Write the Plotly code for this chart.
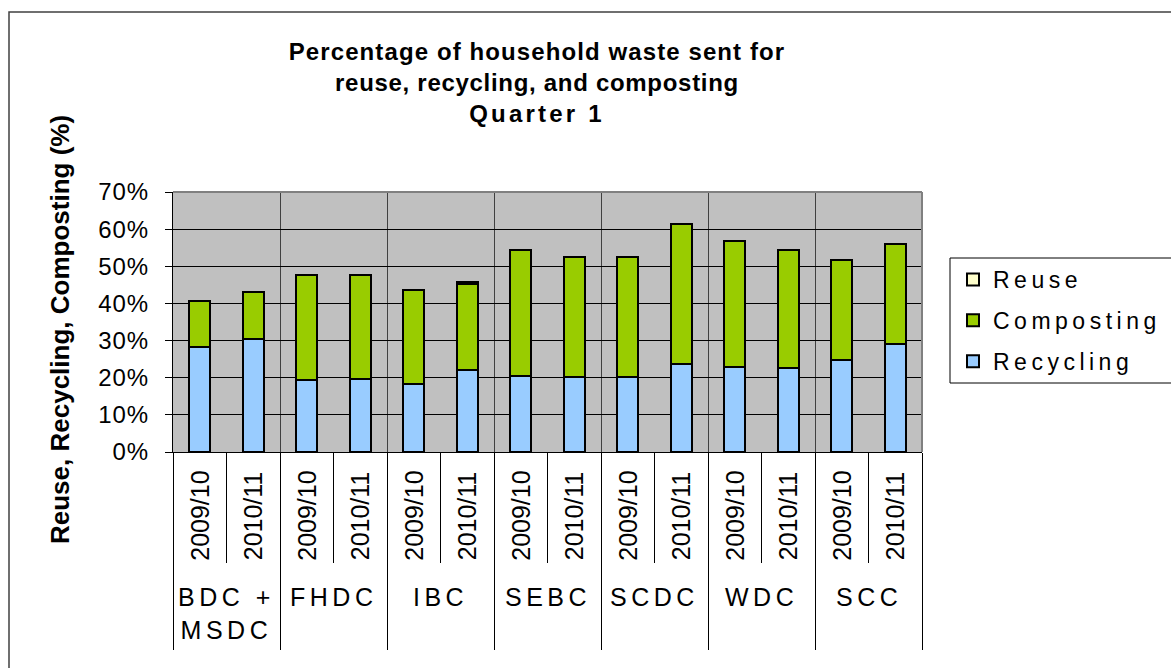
import plotly.graph_objects as go

# ---- data ----
councils = ["BDC +<br>MSDC", "FHDC", "IBC", "SEBC", "SCDC", "WDC", "SCC"]
years = ["2009/10", "2010/11"]
recycling = [28.4, 30.5, 19.3, 19.7, 18.2, 22.0, 20.4, 20.3, 20.3, 23.6, 23.0, 22.5, 24.7, 29.0]
composting = [12.3, 12.5, 28.4, 28.0, 25.3, 23.3, 33.9, 32.3, 32.3, 37.8, 33.9, 31.8, 26.9, 27.0]
reuse = [0, 0, 0, 0, 0, 0.4, 0, 0, 0, 0, 0, 0, 0, 0]
y_ticks = [0, 10, 20, 30, 40, 50, 60, 70]

# ---- geometry helpers (pixels of a 1171x668 canvas) ----
W, H = 1171, 668
L, R, T, B = 173, 922, 192, 452
pw, ph = R - L, B - T
FONT = "Liberation Sans, Arial, sans-serif"


def px_x(p):
    return (p - L) / pw


def px_y(p):
    return (B - p) / ph


def spaced(text, sp):
    return f"<span style='letter-spacing:{sp}px'>{text}</span>"


n = len(councils) * len(years)
xpos = list(range(n))
group_bounds = [i * len(years) - 0.5 for i in range(len(councils) + 1)]
year_bounds = [i * len(years) + 0.5 for i in range(len(councils))]

fig = go.Figure()
series = [
    ("Recycling", recycling, "#99CCFF", 3),
    ("Composting", composting, "#99CC00", 2),
    ("Reuse", reuse, "#FFFFCC", 1),
]
for name, vals, col, rank in series:
    fig.add_trace(go.Bar(
        x=xpos, y=vals, name=spaced(name, 4.5), legendgroup=name, legendrank=rank,
        marker=dict(color=col, line=dict(color="black", width=2)),
        width=0.4,
    ))

annotations = []
# year labels
for i in range(n):
    annotations.append(dict(
        x=i, y=px_y(516), xref="x", yref="paper", text=years[i % len(years)],
        textangle=-90, showarrow=False, xanchor="center", yanchor="middle",
        font=dict(family=FONT, size=25, color="black"),
    ))
# council labels
for g, name in enumerate(councils):
    two = "<br>" in name
    txt = "<br>".join(spaced(p, 4.5) for p in name.split("<br>"))
    annotations.append(dict(
        x=g * len(years) + 0.5, y=px_y(613 if two else 597), xref="x", yref="paper",
        text=txt, showarrow=False, xanchor="center", yanchor="middle",
        font=dict(family=FONT, size=25, color="black"),
    ))
# y-axis title
annotations.append(dict(
    x=px_x(60), y=px_y(330), xref="paper", yref="paper",
    text="<b>Reuse, Recycling, Composting (%)</b>", textangle=-90,
    showarrow=False, xanchor="center", yanchor="middle",
    font=dict(family=FONT, size=26, color="black"),
))

shapes = [
    # plot-area border top & right (grey)
    dict(type="line", xref="paper", yref="paper", x0=0, x1=1, y0=1, y1=1,
         line=dict(color="#808080", width=2)),
    dict(type="line", xref="paper", yref="paper", x0=1, x1=1, y0=0, y1=1,
         line=dict(color="#808080", width=2)),
    # chart outer frame
    dict(type="rect", xref="paper", yref="paper",
         x0=px_x(9), x1=px_x(W + 5), y0=px_y(H + 5), y1=px_y(12),
         line=dict(color="#404040", width=1.5), fillcolor="rgba(0,0,0,0)"),
    # legend frame (extends past the right edge, as in the original)
    dict(type="rect", xref="paper", yref="paper",
         x0=px_x(950), x1=px_x(W + 10), y0=px_y(383), y1=px_y(258),
         line=dict(color="black", width=1), fillcolor="rgba(0,0,0,0)"),
]

title_txt = ("<b>" + spaced("Percentage of household waste sent for", 1.1) + "<br>"
             + spaced("reuse, recycling, and composting", 0.7) + "<br>"
             + spaced("Quarter 1", 3.2) + "</b>")

fig.update_layout(
    width=W, height=H, autosize=False,
    margin=dict(l=L, r=W - R, t=T, b=H - B, pad=0, autoexpand=False),
    paper_bgcolor="white", plot_bgcolor="#C0C0C0",
    barmode="stack",
    title=dict(text=title_txt, x=537 / W, xanchor="center",
               y=1 - 60 / H, yanchor="top", yref="container",
               font=dict(family=FONT, size=24, color="black")),
    xaxis=dict(
        range=[-0.5, n - 0.5], tickmode="array", tickvals=group_bounds,
        showticklabels=False, ticks="outside", ticklen=197, tickwidth=1,
        tickcolor="black", showgrid=True, gridcolor="#404040", gridwidth=1,
        showline=True, linecolor="black", linewidth=1, zeroline=False,
        minor=dict(tickmode="array", tickvals=year_bounds, ticks="outside",
                   ticklen=110, tickwidth=1, tickcolor="black", showgrid=False),
    ),
    yaxis=dict(
        range=[0, 70], tickmode="array", tickvals=y_ticks,
        ticktext=[spaced(f"{v}%", 1) for v in y_ticks],
        ticks="outside", ticklen=7, tickcolor="black", tickwidth=1,
        ticklabelstandoff=11,
        tickfont=dict(family=FONT, size=24, color="black"),
        showgrid=True, gridcolor="black", gridwidth=1,
        showline=True, linecolor="black", linewidth=1, zeroline=False,
    ),
    legend=dict(
        x=px_x(953), y=px_y(258), xanchor="left", yanchor="top",
        traceorder="grouped", tracegroupgap=8,
        borderwidth=0, bgcolor="rgba(0,0,0,0)",
        font=dict(family=FONT, size=23, color="black"),
    ),
    annotations=annotations,
    shapes=shapes,
)

fig.write_html(
    "out.html",
    config={"displayModeBar": False, "responsive": False},
    post_script=("document.body.style.margin='0px';"
                 "document.body.style.overflow='hidden';"
                 "document.documentElement.style.overflow='hidden';"),
)
